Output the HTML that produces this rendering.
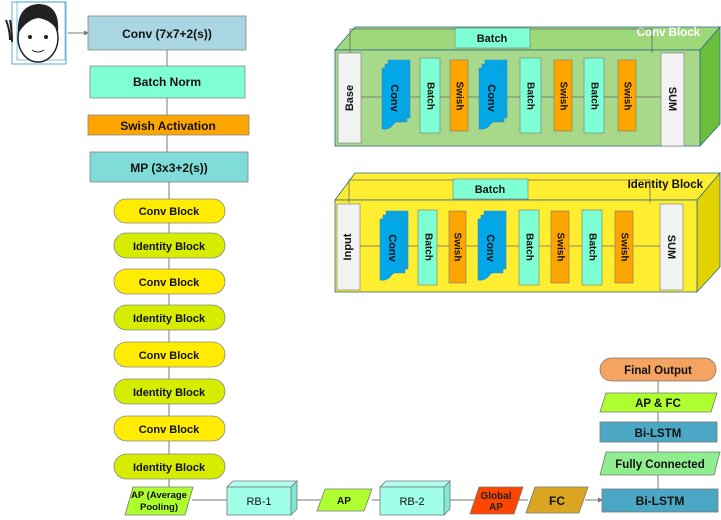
<!DOCTYPE html>
<html><head><meta charset="utf-8"><style>
html,body{margin:0;padding:0;background:#fff;}
svg{display:block;font-family:"Liberation Sans",Arial,sans-serif;font-weight:bold;}
</style></head><body>
<svg width="721" height="520" viewBox="0 0 721 520" xmlns="http://www.w3.org/2000/svg">
<defs>
<marker id="a" markerWidth="5" markerHeight="5" refX="4" refY="2.5" orient="auto"><path d="M0,0L5,2.5L0,5z" fill="#777"/></marker>
<g id="cv"><path d="M6,0h22v58h-22z" fill="#00a8e8" stroke="#3a8cc0" stroke-width="0.6"/><path d="M3,4h22v58h-22z" fill="#00a8e8" stroke="#3a8cc0" stroke-width="0.6"/><path d="M0,8h22v52q-8,0-12,6q-4,4-10,3z" fill="#00a8e8" stroke="#3a8cc0" stroke-width="0.6"/></g>
</defs>
<g stroke="#777" stroke-width="1" fill="none">
<line x1="68" y1="33" x2="88" y2="33" marker-end="url(#a)"/>
<line x1="167" y1="50" x2="167" y2="66"/>
<line x1="167" y1="98" x2="167" y2="115"/>
<line x1="167" y1="135" x2="167" y2="152"/>
<line x1="169" y1="182" x2="169" y2="487"/>
<line x1="192" y1="500" x2="227" y2="500"/>
<line x1="297" y1="500" x2="320" y2="500"/>
<line x1="372" y1="500" x2="382" y2="500"/>
<line x1="450" y1="500" x2="474" y2="500"/>
<line x1="516" y1="500" x2="528" y2="500"/>
<line x1="585" y1="500" x2="602" y2="500" marker-end="url(#a)"/>
<line x1="658" y1="489" x2="658" y2="381"/>
</g>
<!-- face -->
<g>
<rect x="12" y="2" width="54" height="62" fill="none" stroke="#39c" stroke-width="0.8"/>
<rect x="17" y="2" width="48" height="58" fill="none" stroke="#39c" stroke-width="0.6"/>
<ellipse cx="38" cy="38" rx="20" ry="24" fill="#fff" stroke="#222" stroke-width="1.5"/>
<path d="M18,34q-2,-28 20,-30q22,0 20,28q-6,-12 -20,-14q-12,2 -20,16z" fill="#222"/>
<path d="M6,20q4,10 4,20M10,20q2,10 2,22" stroke="#222" stroke-width="2" fill="none"/>
<circle cx="30" cy="37" r="2" fill="#222"/><circle cx="46" cy="37" r="2" fill="#222"/>
<path d="M32,50q6,4 12,0" stroke="#222" fill="none"/>
</g>
<!-- left column -->
<g font-size="12" text-anchor="middle" stroke="#888" stroke-width="0.8">
<rect x="88" y="16" width="158" height="34" fill="#a9d6e2"/>
<rect x="90" y="66" width="155" height="32" fill="#7fffd4"/>
<rect x="88" y="115" width="161" height="20" fill="#ffa500"/>
<rect x="90" y="152" width="158" height="30" fill="#7fdcd8"/>
<g>
<rect x="114" y="199" width="111" height="24" rx="12" fill="#ffec00"/>
<rect x="114" y="233" width="111" height="25" rx="12.5" fill="#d6ec00"/>
<rect x="114" y="269" width="111" height="25" rx="12.5" fill="#ffec00"/>
<rect x="114" y="305" width="111" height="25" rx="12.5" fill="#d6ec00"/>
<rect x="114" y="342" width="111" height="25" rx="12.5" fill="#ffec00"/>
<rect x="114" y="379" width="111" height="25" rx="12.5" fill="#d6ec00"/>
<rect x="114" y="416" width="111" height="25" rx="12.5" fill="#ffec00"/>
<rect x="114" y="454" width="111" height="25" rx="12.5" fill="#d6ec00"/>
</g>
</g>
<g font-size="12" text-anchor="middle" fill="#111">
<text x="167" y="38">Conv (7x7+2(s))</text>
<text x="167" y="86">Batch Norm</text>
<text x="168" y="130">Swish Activation</text>
<text x="169" y="172">MP (3x3+2(s))</text>
<g font-size="11">
<text x="169" y="215">Conv Block</text>
<text x="169" y="250">Identity Block</text>
<text x="169" y="286">Conv Block</text>
<text x="169" y="322">Identity Block</text>
<text x="169" y="359">Conv Block</text>
<text x="169" y="396">Identity Block</text>
<text x="169" y="433">Conv Block</text>
<text x="169" y="471">Identity Block</text>
</g>
</g>
<!-- bottom row -->
<g stroke="#777" stroke-width="0.8">
<path d="M133,487h60l-8,28h-60z" fill="#adff2f"/>
<path d="M227,487h64l6,-6h-64z" fill="#b0fff0"/><path d="M291,487l6,-6v28l-6,6z" fill="#7fe8d8"/><rect x="227" y="487" width="64" height="28" fill="#a0ffe8"/>
<path d="M325,489h47l-8,22h-47z" fill="#adff2f"/>
<path d="M380,487h64l6,-6h-64z" fill="#b0fff0"/><path d="M444,487l6,-6v28l-6,6z" fill="#7fe8d8"/><rect x="380" y="487" width="64" height="28" fill="#a0ffe8"/>
<path d="M479,487h44l-9,27h-44z" fill="#ff4500"/>
<path d="M535,487h53l-9,26h-53z" fill="#daa520"/>
<rect x="602" y="489" width="116" height="23" fill="#4aa8c4"/>
<path d="M606,452h114l-6,23h-114z" fill="#90ee90"/>
<rect x="600" y="422" width="117" height="20" fill="#4aa8c4"/>
<path d="M606,393h111l-6,19h-111z" fill="#adff2f"/>
<rect x="600" y="358" width="116" height="23" rx="11.5" fill="#f4a460"/>
</g>
<g font-size="10" text-anchor="middle" fill="#111">
<text x="159" y="498" font-size="9.5">AP (Average</text><text x="159" y="510" font-size="9.5">Pooling)</text>
<text x="259" y="505" font-weight="normal" font-size="11">RB-1</text>
<text x="344" y="504">AP</text>
<text x="412" y="505" font-weight="normal" font-size="11">RB-2</text>
<text x="496" y="499" fill="#222">Global</text><text x="496" y="510" fill="#222">AP</text>
<text x="557" y="505" font-size="12">FC</text>
<text x="660" y="505" font-size="12">Bi-LSTM</text>
<text x="660" y="468" font-size="11.5">Fully Connected</text>
<text x="658" y="437" font-size="11.5">Bi-LSTM</text>
<text x="658" y="407" font-size="11.5">AP &amp; FC</text>
<text x="658" y="374" font-size="11.5">Final Output</text>
</g>
<!-- Conv Block 3D -->
<g stroke="#2a6a8a" stroke-width="0.8">
<path d="M335,50l20,-23h365l-20,23z" fill="#9fd87a"/>
<path d="M700,50l20,-23v97l-20,22z" fill="#6cbf3c"/>
<rect x="335" y="50" width="365" height="96" fill="#a8d98a"/>
</g>
<!-- Identity Block 3D -->
<g stroke="#2a6a8a" stroke-width="0.8">
<path d="M335,200l20,-27h365l-20,27z" fill="#ffee30"/>
<path d="M697,200l23,-27v94l-23,25z" fill="#e2d200"/>
<rect x="335" y="200" width="362" height="92" fill="#ffee30"/>
</g>
<g font-size="11.5">
<text x="700" y="36" text-anchor="end" fill="#fff">Conv Block</text>
<text x="703" y="188" text-anchor="end" fill="#111">Identity Block</text>
</g>
<!-- inner conv block -->
<g stroke="#666" stroke-width="0.8" fill="none">
<path d="M350,53v-24h302v24"/>
<line x1="361" y1="97" x2="661" y2="97"/>
<path d="M349,203v-23h301v23"/>
<line x1="359" y1="246" x2="661" y2="246"/>
</g>
<g stroke="#777" stroke-width="0.6">
<rect x="455" y="28" width="75" height="20" fill="#7fffd4"/>
<rect x="338" y="53" width="23" height="90" fill="#f2f2f2"/>
<use href="#cv" x="382" y="60"/>
<rect x="420" y="58" width="20" height="75" fill="#7fffd4"/>
<rect x="450" y="60" width="18" height="71" fill="#ffa500"/>
<use href="#cv" x="479" y="60"/>
<rect x="520" y="58" width="21" height="75" fill="#7fffd4"/>
<rect x="554" y="60" width="18" height="71" fill="#ffa500"/>
<rect x="584" y="58" width="20" height="75" fill="#7fffd4"/>
<rect x="618" y="60" width="18" height="71" fill="#ffa500"/>
<rect x="661" y="53" width="23" height="93" fill="#f2f2f2"/>

<rect x="453" y="179" width="75" height="20" fill="#7fffd4"/>
<rect x="337" y="204" width="23" height="86" fill="#f2f2f2"/>
<use href="#cv" x="380" y="211"/>
<rect x="418" y="210" width="19" height="75" fill="#7fffd4"/>
<rect x="449" y="211" width="17" height="72" fill="#ffa500"/>
<use href="#cv" x="478" y="211"/>
<rect x="519" y="210" width="20" height="75" fill="#7fffd4"/>
<rect x="551" y="211" width="18" height="72" fill="#ffa500"/>
<rect x="582" y="210" width="20" height="75" fill="#7fffd4"/>
<rect x="615" y="211" width="18" height="72" fill="#ffa500"/>
<rect x="660" y="204" width="23" height="86" fill="#f2f2f2"/>
</g>
<g font-size="11" fill="#111" text-anchor="middle" dominant-baseline="middle">
<text x="492" y="39">Batch</text>
<text x="490" y="190">Batch</text>
<text transform="translate(350,98) rotate(-90)">Base</text>
<text transform="translate(348,247) rotate(-90)">Input</text>
<g font-size="11">
<text transform="translate(394,98) rotate(90)">Conv</text>
<text transform="translate(430,96) rotate(90)" font-size="10">Batch</text>
<text transform="translate(459,96) rotate(90)" font-size="10">Swish</text>
<text transform="translate(491,98) rotate(90)">Conv</text>
<text transform="translate(530,96) rotate(90)" font-size="10">Batch</text>
<text transform="translate(563,96) rotate(90)" font-size="10">Swish</text>
<text transform="translate(594,96) rotate(90)" font-size="10">Batch</text>
<text transform="translate(627,96) rotate(90)" font-size="10">Swish</text>
<text transform="translate(672,99) rotate(90)">SUM</text>

<text transform="translate(392,248) rotate(90)">Conv</text>
<text transform="translate(428,247) rotate(90)" font-size="10">Batch</text>
<text transform="translate(457,247) rotate(90)" font-size="10">Swish</text>
<text transform="translate(490,248) rotate(90)">Conv</text>
<text transform="translate(529,247) rotate(90)" font-size="10">Batch</text>
<text transform="translate(560,247) rotate(90)" font-size="10">Swish</text>
<text transform="translate(592,247) rotate(90)" font-size="10">Batch</text>
<text transform="translate(624,247) rotate(90)" font-size="10">Swish</text>
<text transform="translate(671,247) rotate(90)">SUM</text>
</g>
</g>
</svg>
</body></html>
